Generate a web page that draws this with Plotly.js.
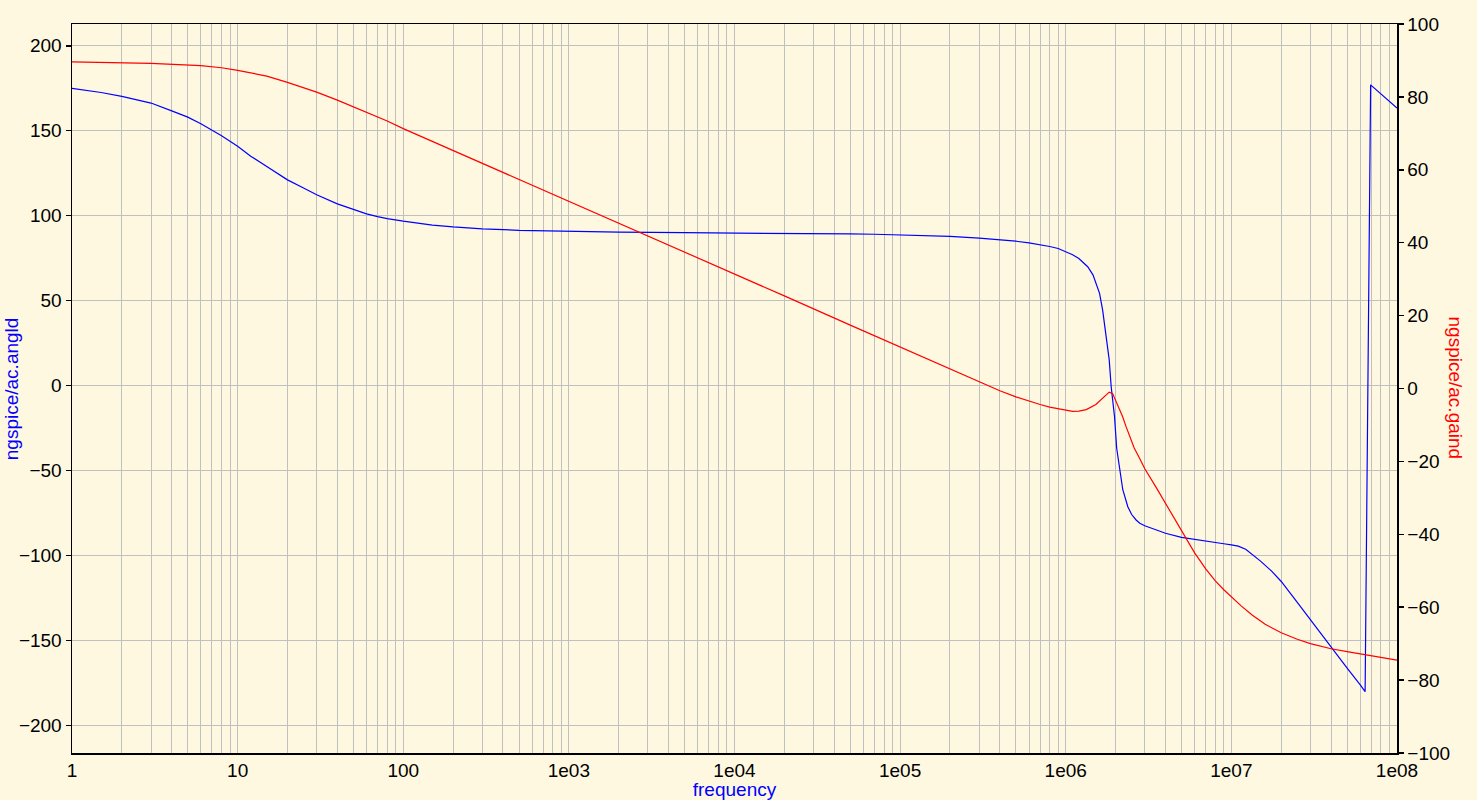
<!DOCTYPE html>
<html>
<head>
<meta charset="utf-8">
<script src="https://cdn.plot.ly/plotly-3.0.1.min.js"></script>
<style>
  html, body { margin: 0; padding: 0; background: #fff8e1; }
  #chart { width: 1477px; height: 800px; }
</style>
</head>
<body>
<div id="chart"></div>
<script>
// Phase (ngspice/ac.angld), left axis
const freqAng = [1, 1.5, 2, 3, 4, 5, 6, 7, 8, 10, 12, 15, 20, 25, 30, 40, 50, 60, 70, 80, 100, 150, 200, 300, 500,
  1000, 2000, 5000, 1e4, 2e4, 5e4, 7e4, 1e5, 1.5e5, 2e5, 3e5, 4e5, 5e5, 6e5, 7e5, 8e5, 9e5, 1e6, 1.1e6, 1.2e6, 1.27e6,
  1.357e6, 1.46e6, 1.525e6, 1.6e6, 1.67e6, 1.75e6, 1.83e6, 1.88e6, 1.97e6, 2.03e6, 2.11e6, 2.21e6, 2.37e6, 2.5e6, 2.66e6,
  2.8e6, 3e6, 3.5e6, 4e6, 5e6, 6e6, 7e6, 9e6, 1e7, 1.1e7, 1.22e7, 1.35e7, 1.5e7, 1.75e7, 2e7, 2.5e7, 3e7, 4e7, 5e7, 6e7,
  6.42e7, 6.93e7, 1e8];
const angld = [174.9, 172.5, 170.2, 166.3, 161.7, 158.0, 154.1, 150.4, 147.0, 140.9, 135.0, 129.0, 121.1, 116.3, 112.3,
  107.0, 103.5, 101.1, 99.5, 98.3, 96.8, 94.5, 93.4, 92.3, 91.4,
  90.7, 90.3, 90.0, 89.9, 89.7, 89.3, 89.1, 88.8, 88.3, 87.8, 86.8, 85.9, 85.0, 84.0, 83.0, 81.9, 80.7, 79.0, 77.0, 74.8, 72.8,
  70.0, 65.2, 60.3, 54.3, 44.5, 30.9, 15.2, -0.5, -18.2, -36.8, -48.0, -61.2, -71.2, -75.8, -79.0,
  -80.9, -82.4, -84.9, -86.8, -89.2, -90.5, -91.5, -93.0, -93.6, -94.4, -96.2, -99.4, -103.2, -109.1, -115.2, -127.5, -137.8,
  -153.8, -166.2, -176.0, -180.0, 177.0, 163.3];

// Gain (ngspice/ac.gaind), right axis
const freqGain = [1, 2, 3, 6, 8, 10, 15, 20, 25, 30, 40, 50, 60, 70, 80, 100, 150, 200, 300, 500, 1000, 2000, 5000, 1e4, 2e4, 5e4,
  1e5, 1.5e5, 2e5, 3e5, 4e5, 5e5, 6e5, 7e5, 8e5, 9e5, 1e6, 1.1e6, 1.2e6, 1.33e6, 1.52e6, 1.71e6, 1.83e6, 1.92e6,
  2.06e6, 2.2e6, 2.31e6, 2.45e6, 2.59e6, 2.8e6, 3e6, 3.5e6, 4e6, 4.5e6, 5e6, 5.5e6, 6e6, 7e6, 8e6, 9e6, 1e7, 1.15e7,
  1.34e7, 1.6e7, 2e7, 2.5e7, 3e7, 4e7, 5e7, 6e7, 9e7, 1e8];
const gaind = [89.6, 89.4, 89.2, 88.6, 88.0, 87.3, 85.7, 84.0, 82.6, 81.3, 79.1, 77.3, 75.8, 74.5, 73.4, 71.3, 67.8, 65.3,
  61.7, 57.3, 51.4, 45.4, 37.4, 31.4, 25.4, 17.4,
  11.4, 7.9, 5.4, 1.9, -0.6, -2.3, -3.5, -4.4, -5.1, -5.6, -6.0, -6.3, -6.2, -5.8, -4.4, -2.2, -1.0, -1.4,
  -4.4, -7.6, -10.4, -13.4, -16.3, -19.3, -22.0, -27.0, -31.5, -35.5, -39.0, -42.2, -45.1, -49.5, -52.8, -55.2, -57.2, -59.7,
  -62.2, -64.7, -67.0, -68.8, -70.0, -71.4, -72.2, -72.8, -74.1, -74.5];

const xTickVals = [1, 10, 100, 1e3, 1e4, 1e5, 1e6, 1e7, 1e8];
const xTickText = ['1', '10', '100', '1e03', '1e04', '1e05', '1e06', '1e07', '1e08'];
const yTickVals = [-200, -150, -100, -50, 0, 50, 100, 150, 200];
const y2TickVals = [-100, -80, -60, -40, -20, 0, 20, 40, 60, 80, 100];

const bg = '#fff8e1';
const grid = '#c0c0c0';
const fontFam = 'Liberation Sans, Arial, sans-serif';

const traces = [
  { x: freqAng, y: angld, type: 'scatter', mode: 'lines', name: 'ngspice/ac.angld',
    line: { color: '#0000ff', width: 1.2 }, yaxis: 'y' },
  { x: freqGain, y: gaind, type: 'scatter', mode: 'lines', name: 'ngspice/ac.gaind',
    line: { color: '#ff0000', width: 1.2 }, yaxis: 'y2' }
];

const layout = {
  width: 1477, height: 800,
  margin: { l: 71.5, r: 79.5, t: 24, b: 47, pad: 0 },
  paper_bgcolor: bg, plot_bgcolor: bg,
  showlegend: false,
  font: { family: fontFam, size: 19, color: '#000' },
  xaxis: {
    type: 'log', range: [0, 8], autorange: false,
    tickvals: xTickVals, ticktext: xTickText, ticks: '',
    showgrid: true, gridcolor: grid, gridwidth: 1,
    minor: { dtick: 'D1', showgrid: true, gridcolor: grid, gridwidth: 1, ticks: '' },
    showline: true, linecolor: '#000', linewidth: 1.5, mirror: true,
    zeroline: false,
    tickfont: { size: 19, color: '#000' },
    title: { text: 'frequency', font: { size: 19, color: '#0000ff' }, standoff: 4 },
    automargin: false
  },
  yaxis: {
    range: [-216.1, 212.8], autorange: false,
    tickvals: yTickVals, ticks: 'outside', ticklen: 5, tickcolor: '#000', tickwidth: 1.5,
    showgrid: true, gridcolor: grid, gridwidth: 1,
    showline: true, linecolor: '#000', linewidth: 1.5,
    zeroline: false,
    tickfont: { size: 19, color: '#000' },
    automargin: false
  },
  yaxis2: {
    overlaying: 'y', side: 'right',
    range: [-100, 100], autorange: false,
    tickvals: y2TickVals, ticks: 'outside', ticklen: 5, tickcolor: '#000', tickwidth: 1.5,
    showgrid: false, showline: true, linecolor: '#000', linewidth: 1.5,
    zeroline: false,
    tickfont: { size: 19, color: '#000' },
    automargin: false
  },
  annotations: [
    { text: 'ngspice/ac.angld', xref: 'paper', yref: 'paper', x: -0.0455, y: 0.5,
      xanchor: 'center', yanchor: 'middle', textangle: -90, showarrow: false,
      font: { size: 19, color: '#0000ff' } },
    { text: 'ngspice/ac.gaind', xref: 'paper', yref: 'paper', x: 1.0445, y: 0.5,
      xanchor: 'center', yanchor: 'middle', textangle: 90, showarrow: false,
      font: { size: 19, color: '#ff0000' } }
  ]
};

Plotly.newPlot('chart', traces, layout, { staticPlot: true, displayModeBar: false });
</script>
</body>
</html>
